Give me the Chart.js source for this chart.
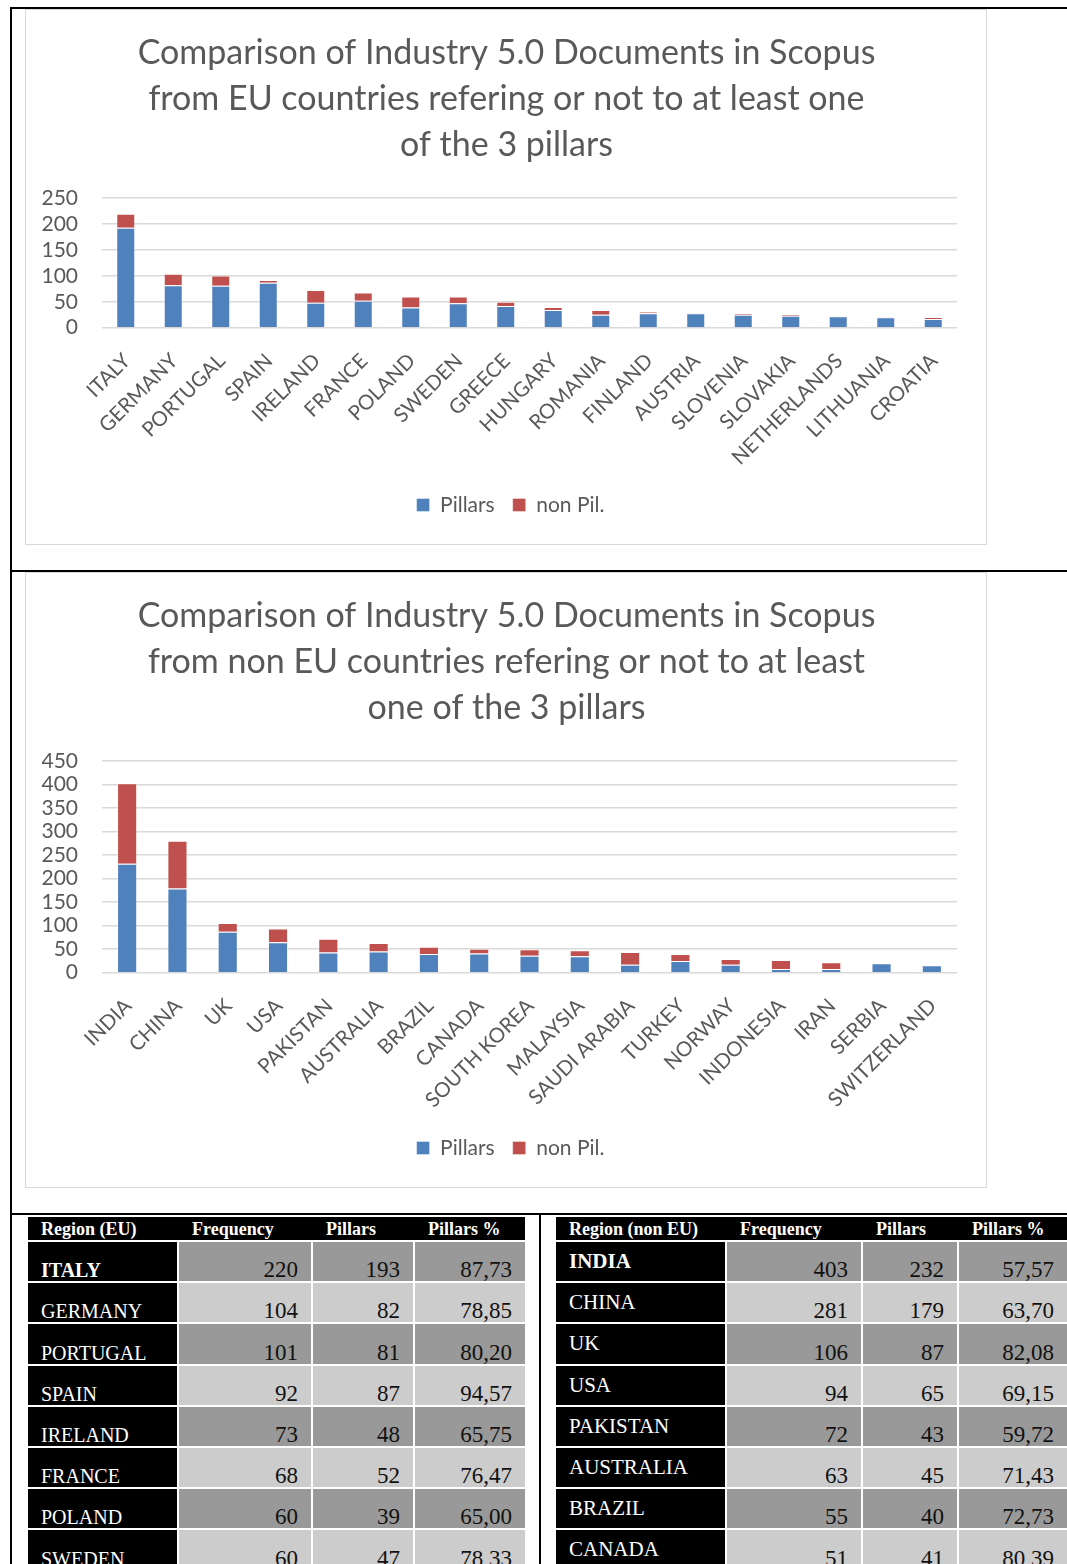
<!DOCTYPE html>
<html>
<head>
<meta charset="utf-8">
<title>Industry 5.0 pillars</title>
<script src="https://cdn.jsdelivr.net/npm/chart.js@4.4.1/dist/chart.umd.min.js"></script>
<style>
    body { margin: 0; background: #fff; }
    #page { position: relative; width: 1067px; height: 1564px; overflow: hidden; font-family: "Liberation Serif", serif; }
    .line { position: absolute; background: #000; }
    .box { position: absolute; border: 1px solid #d9d9d9; box-sizing: border-box; }
    .cell { position: absolute; box-sizing: border-box; display: flex; line-height: 1; white-space: nowrap; }
</style>
</head>
<body>
<div id="page">
    <div class="line" style="left:10px;top:7px;width:2px;height:1557px"></div>
    <div class="line" style="left:10px;top:7px;width:1057px;height:2px"></div>
    <div class="line" style="left:10px;top:570px;width:1057px;height:2px"></div>
    <div class="line" style="left:10px;top:1213px;width:1057px;height:2px"></div>
    <div class="line" style="left:539px;top:1213px;width:2px;height:351px"></div>

    <div class="box" style="left:25px;top:9px;width:962px;height:536px">
        <div style="position:relative;width:960px;height:534px"><canvas id="chartEU"></canvas></div>
    </div>
    <div class="box" style="left:25px;top:572px;width:962px;height:616px">
        <div style="position:relative;width:960px;height:614px"><canvas id="chartNonEU"></canvas></div>
    </div>
</div>

<script>
// EU countries
const euCountries = ["ITALY", "GERMANY", "PORTUGAL", "SPAIN", "IRELAND", "FRANCE", "POLAND", "SWEDEN", "GREECE",
    "HUNGARY", "ROMANIA", "FINLAND", "AUSTRIA", "SLOVENIA", "SLOVAKIA", "NETHERLANDS", "LITHUANIA", "CROATIA"]
const euFrequency = [220, 104, 101, 92, 73, 68, 60, 60, 50, 40, 34, 31, 29, 28, 26, 23, 21, 20]
const euPillars = [193, 82, 81, 87, 48, 52, 39, 47, 42, 34, 25, 28, 28, 25, 23, 22, 20, 17]

// non EU countries
const nonEuCountries = ["INDIA", "CHINA", "UK", "USA", "PAKISTAN", "AUSTRALIA", "BRAZIL", "CANADA", "SOUTH KOREA",
    "MALAYSIA", "SAUDI ARABIA", "TURKEY", "NORWAY", "INDONESIA", "IRAN", "SERBIA", "SWITZERLAND"]
const nonEuFrequency = [403, 281, 106, 94, 72, 63, 55, 51, 50, 48, 44, 40, 29, 27, 22, 20, 16]
const nonEuPillars = [232, 179, 87, 65, 43, 45, 40, 41, 36, 35, 17, 25, 17, 8, 8, 20, 16]

const euTitle = ["Comparison of Industry 5.0 Documents in Scopus", "from EU countries refering or not to at least one", "of the 3 pillars"]
const nonEuTitle = ["Comparison of Industry 5.0 Documents in Scopus", "from non EU countries refering or not to at least", "one of the 3 pillars"]

const euHeaders = ["Region (EU)", "Frequency", "Pillars", "Pillars %"]
const nonEuHeaders = ["Region (non EU)", "Frequency", "Pillars", "Pillars %"]

const grey = "#595959"
Chart.defaults.font.family = "Lato"

// the title and legend in the picture sit a bit right of the canvas middle
const nudgeBoxes = {
    id: "nudgeBoxes",
    afterLayout: function (chart) {
        chart.titleBlock.left += 15
        chart.titleBlock.right += 15
        chart.legend.left += 19
        chart.legend.right += 19
    }
}

function drawChart(id, countries, frequency, pillars, titleLines, yMax, xAxisHeight) {
    const nonPillars = countries.map(function (c, i) {
        return frequency[i] - pillars[i];
    })

    const config = {
        type: "bar",
        data: {
            labels: countries,
            datasets: [{
                label: "Pillars",
                data: pillars,
                backgroundColor: "#4F81BD",
                borderColor: "rgba(255, 255, 255, 0.4)",
                borderWidth: 1,
                barPercentage: 0.4,
                categoryPercentage: 1
            }, {
                label: "non Pil.",
                data: nonPillars,
                backgroundColor: "#C0504D",
                borderColor: "rgba(255, 255, 255, 0.4)",
                borderWidth: 1,
                barPercentage: 0.4,
                categoryPercentage: 1
            }]
        },
        options: {
            responsive: true,
            maintainAspectRatio: false,
            animation: false,
            layout: { padding: { left: 0, right: 29, top: 0, bottom: 18.5 } },
            scales: {
                x: {
                    stacked: true,
                    grid: { display: false },
                    border: { display: false },
                    ticks: {
                        color: grey,
                        font: { size: 20.5 },
                        maxRotation: 45,
                        minRotation: 45,
                        autoSkip: false,
                        padding: 13,
                        labelOffset: 1
                    },
                    afterFit: function (scale) {
                        scale.height = xAxisHeight;
                    }
                },
                y: {
                    stacked: true,
                    min: 0,
                    max: yMax,
                    ticks: { stepSize: 50, autoSkip: false, color: grey, font: { size: 21 }, padding: 24 },
                    grid: { color: "#d9d9d9", lineWidth: 1.5, drawTicks: false },
                    border: { display: false },
                    afterFit: function (scale) {
                        scale.width = 76;
                    }
                }
            },
            plugins: {
                title: {
                    display: true,
                    text: titleLines,
                    color: grey,
                    font: { size: 34, weight: "normal", lineHeight: 1.355 },
                    padding: { top: 20, bottom: 30 }
                },
                legend: {
                    position: "bottom",
                    labels: { boxWidth: 13, boxHeight: 13, padding: 18, color: grey, font: { size: 21 } }
                },
                tooltip: { enabled: false }
            }
        },
        plugins: [nudgeBoxes]
    }

    new Chart(document.getElementById(id), config)
}

drawChart("chartEU", euCountries, euFrequency, euPillars, euTitle, 250, 148.8)
drawChart("chartNonEU", nonEuCountries, nonEuFrequency, nonEuPillars, nonEuTitle, 450, 146.8)


// tables under the charts
const page = document.getElementById("page")

function addCell(x, y, w, h, bg, text, style) {
    const cell = document.createElement("div")
    cell.className = "cell"
    cell.style.left = x + "px"
    cell.style.top = y + "px"
    cell.style.width = w + "px"
    cell.style.height = h + "px"
    cell.style.background = bg
    cell.style.cssText += style
    cell.textContent = text
    page.appendChild(cell)
}

function formatPct(p, f) {
    return (p / f * 100).toFixed(2).replace(".", ",")
}

function drawTable(cols, headers, countries, frequency, pillars, namesOnTop) {
    const left = cols[0][0]
    const right = cols[3][0] + cols[3][1]
    addCell(left, 1217, right - left, 23, "#000", "", "")
    for (let c = 0; c < 4; c++) {
        addCell(cols[c][0], 1217, cols[c][1], 23, "transparent", headers[c],
            "color:#fff;font-weight:bold;font-size:18px;align-items:center;padding-left:13px;")
    }

    for (let i = 0; i < 8; i++) {
        const y = 1242 + i * 41.2
        const h = 39.3
        const bg = i % 2 === 0 ? "#999999" : "#cccccc"
        const bold = i === 0 ? "font-weight:bold;" : ""
        let nameStyle = "color:#fff;padding-left:13px;" + bold
        if (namesOnTop) {
            nameStyle += "font-size:21px;align-items:flex-start;padding-top:9px;"
        } else {
            nameStyle += "font-size:20px;align-items:flex-end;padding-bottom:1px;"
        }
        addCell(cols[0][0], y, cols[0][1], h, "#000", countries[i], nameStyle)

        const values = [String(frequency[i]), String(pillars[i]), formatPct(pillars[i], frequency[i])]
        for (let c = 1; c < 4; c++) {
            addCell(cols[c][0], y, cols[c][1], h, bg, values[c - 1],
                "color:#111;font-size:23px;align-items:flex-end;justify-content:flex-end;padding-right:13px;")
        }
    }
}

drawTable([[28, 149], [179, 132], [313, 100], [415, 110]], euHeaders, euCountries, euFrequency, euPillars, false)
drawTable([[556, 169], [727, 134], [863, 94], [959, 108]], nonEuHeaders, nonEuCountries, nonEuFrequency, nonEuPillars, true)
</script>
</body>
</html>
